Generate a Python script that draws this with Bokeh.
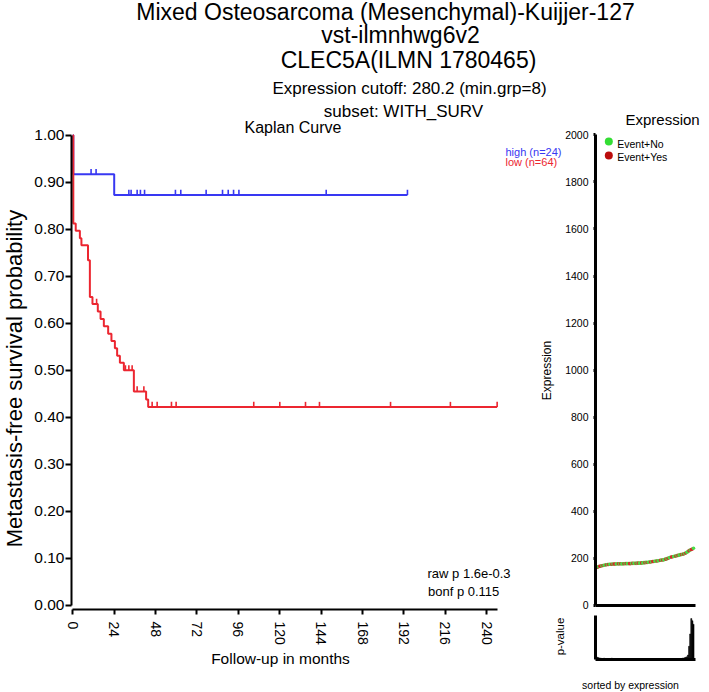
import math
import numpy as np
from bokeh.plotting import figure
from bokeh.models import (Range1d, FixedTicker, NumeralTickFormatter, LinearAxis,
                          ColumnDataSource)
from bokeh.core.properties import value
from bokeh.embed import file_html
from bokeh.resources import INLINE

# ---------------- texts ----------------
title_lines = ["Mixed Osteosarcoma (Mesenchymal)-Kuijjer-127",
               "vst-ilmnhwg6v2",
               "CLEC5A(ILMN 1780465)"]
info_lines = ["Expression cutoff: 280.2 (min.grp=8)", "subset: WITH_SURV"]
km_title = "Kaplan Curve"
expr_title = "Expression"
group_names = ["high (n=24)", "low (n=64)"]
event_names = ["Event+No", "Event+Yes"]
stat_lines = ["raw p 1.6e-0.3", "bonf p 0.115"]
km_xlabel = "Follow-up in months"
km_ylabel = "Metastasis-free survival probability"
expr_ylabel = "Expression"
pval_ylabel = "p-value"
pval_xlabel = "sorted by expression"

# ---------------- Kaplan-Meier data ----------------
low_time = [0.0, 0.3, 1.7, 4.1, 5.0, 8.8, 9.9, 11.4, 14.5, 16.1, 18.0, 20.5,
            22.4, 24.4, 25.7, 27.3, 29.6, 35.4, 42.5, 43.7, 246.0]
low_surv = [1.0, 0.8125, 0.797, 0.781, 0.766, 0.734, 0.656, 0.641, 0.625, 0.609,
            0.594, 0.578, 0.5625, 0.547, 0.531, 0.516, 0.500, 0.455, 0.438, 0.422, 0.422]
low_censor = [13.8, 30.5, 32.5, 34.4, 37.3, 41.2, 46.0, 48.9, 57.2, 59.9,
              104.9, 120.0, 134.9, 143.0, 184.2, 218.9, 246.0]

high_time = [0.0, 0.3, 24.0, 194.0]
high_surv = [1.0, 0.917, 0.873, 0.873]
high_censor = [10.6, 13.5, 32.5, 33.8, 37.3, 39.2, 41.6, 59.5, 62.6, 77.3,
               86.8, 90.1, 93.2, 96.3, 146.9, 194.0]

month_ticks = [0, 24, 48, 72, 96, 120, 144, 168, 192, 216, 240]
surv_ticks = [0.0, 0.1, 0.2, 0.3, 0.4, 0.5, 0.6, 0.7, 0.8, 0.9, 1.0]
expr_ticks = [0, 200, 400, 600, 800, 1000, 1200, 1400, 1600, 1800, 2000]

# ---------------- expression panel data (sorted) ----------------
expression = [163, 165, 167, 168, 169, 170, 171, 172, 173, 174,
              174, 175, 175, 175, 176, 176, 176, 176, 177, 177,
              177, 177, 177, 177, 177, 178, 178, 178, 178, 178,
              178, 179, 179, 179, 179, 179, 180, 180, 180, 180,
              181, 181, 182, 182, 183, 183, 184, 185, 185, 186,
              187, 187, 188, 189, 189, 190, 191, 192, 193, 193,
              194, 196, 197, 199, 201, 203, 205, 206, 207, 208,
              209, 210, 212, 213, 214, 216, 217, 218, 219, 221,
              223, 226, 229, 233, 236, 238, 240, 243]
event = [1, 0, 1, 1, 0, 1, 0, 0, 1, 0,
         1, 0, 0, 1, 0, 1, 1, 0, 0, 1,
         0, 1, 0, 0, 1, 0, 1, 0, 0, 1,
         1, 0, 1, 0, 0, 1, 0, 1, 0, 0,
         1, 0, 0, 1, 0, 1, 0, 0, 1, 0,
         1, 1, 0, 0, 1, 0, 0, 1, 0, 1,
         0, 0, 1, 0, 1, 0, 0, 1, 1, 0,
         0, 1, 0, 1, 0, 0, 1, 0, 1, 0,
         1, 0, 0, 1, 0, 1, 1, 0]
pvalue = [0.05, 0.04, 0.03, 0.03, 0.02, 0.02, 0.03, 0.02, 0.02, 0.02,
          0.02, 0.02, 0.02, 0.03, 0.02, 0.02, 0.02, 0.02, 0.02, 0.02,
          0.02, 0.02, 0.02, 0.02, 0.02, 0.02, 0.02, 0.02, 0.02, 0.02,
          0.02, 0.02, 0.02, 0.02, 0.02, 0.02, 0.02, 0.02, 0.02, 0.02,
          0.02, 0.02, 0.02, 0.02, 0.02, 0.02, 0.02, 0.02, 0.02, 0.02,
          0.02, 0.02, 0.02, 0.02, 0.02, 0.02, 0.02, 0.02, 0.02, 0.02,
          0.02, 0.02, 0.02, 0.02, 0.02, 0.02, 0.02, 0.02, 0.02, 0.02,
          0.02, 0.02, 0.02, 0.02, 0.02, 0.02, 0.02, 0.03, 0.03, 0.04,
          0.05, 0.06, 0.10, 0.30, 0.58, 0.93, 0.88, 0.80]

# ---------------- styles ----------------
FONT = "Liberation Sans"
BLUE = "#3838f2"
RED = "#ec2630"
GREEN_PT = "#48dc48"
RED_PT = "#d42a2a"
LEG_GREEN = "#33dd33"
LEG_RED = "#bb0c0c"
TICK_H = 0.011          # height of censor ticks (survival units)
BASE_SHIFT = 0.3        # em correction for alphabetic baseline

# ---------------- one canvas, several coordinate systems ----------------
p = figure(width=709, height=692,
           x_range=Range1d(-41.91, 369.1), y_range=Range1d(-0.185, 1.2864),
           x_axis_location=None, y_axis_location=None, min_border=0,
           toolbar_location=None, output_backend="svg")
p.extra_x_ranges = {"idx": Range1d(-540.06, 102.5), "px": Range1d(0, 709)}
p.extra_y_ranges = {"expr": Range1d(-369.7, 2570.6),
                    "pval": Range1d(-0.75, 14.977),
                    "px": Range1d(692, 0)}
p.grid.visible = False
p.outline_line_color = None
p.background_fill_color = "white"
p.border_fill_color = "white"


def style_axis(ax, lw, font_size):
    ax.axis_line_color = "black"
    ax.axis_line_width = lw
    ax.major_tick_line_color = "black"
    ax.major_tick_line_width = lw
    ax.minor_tick_line_color = None
    ax.major_label_text_font = FONT
    ax.major_label_text_font_size = font_size
    ax.major_label_text_color = "black"


# Kaplan-Meier axes
kx = LinearAxis(fixed_location=-0.0085, bounds=(0, 246),
                ticker=FixedTicker(ticks=month_ticks))
style_axis(kx, 2, "14px")
kx.major_tick_out = 5
kx.major_tick_in = 0
kx.major_label_orientation = -math.pi / 2
kx.major_label_standoff = 7
p.add_layout(kx, "below")

ky = LinearAxis(fixed_location=-0.754, bounds=(0, 1),
                ticker=FixedTicker(ticks=surv_ticks),
                formatter=NumeralTickFormatter(format="0.00"))
style_axis(ky, 2, "15.5px")
ky.major_tick_out = 6
ky.major_tick_in = 0
ky.major_label_standoff = 1
p.add_layout(ky, "left")

# expression axes
ey = LinearAxis(x_range_name="idx", y_range_name="expr", fixed_location=-0.81,
                bounds=(0, 2000), ticker=FixedTicker(ticks=expr_ticks))
style_axis(ey, 3, "10.5px")
ey.major_tick_out = 2
ey.major_tick_in = 0
ey.major_label_standoff = 5
p.add_layout(ey, "left")

ex = LinearAxis(x_range_name="idx", y_range_name="expr", fixed_location=0,
                bounds=(-0.81, 89.8), ticker=FixedTicker(ticks=[]))
style_axis(ex, 3, "0px")
ex.major_tick_out = 0
ex.major_tick_in = 0
p.add_layout(ex, "below")

# p-value axes
py = LinearAxis(x_range_name="idx", y_range_name="pval", fixed_location=-0.81,
                bounds=(0, 1), ticker=FixedTicker(ticks=[]))
style_axis(py, 3, "0px")
py.major_tick_out = 0
py.major_tick_in = 0
p.add_layout(py, "left")

px_ = LinearAxis(x_range_name="idx", y_range_name="pval", fixed_location=0,
                 bounds=(-0.81, 89.8), ticker=FixedTicker(ticks=[]))
style_axis(px_, 3, "0px")
px_.major_tick_out = 0
px_.major_tick_in = 0
p.add_layout(px_, "below")


# ---------------- Kaplan-Meier curves ----------------
def censor_points(times, surv, cens):
    t = np.asarray(times)
    s = np.asarray(surv)
    i = np.searchsorted(t, np.asarray(cens), side="right") - 1
    ys = s[i]
    return list(cens), list(ys), list(ys + TICK_H)


p.step(x=high_time, y=high_surv, mode="after", line_color=BLUE, line_width=2)
cx, cy0, cy1 = censor_points(high_time, high_surv, high_censor)
p.segment(x0=cx, y0=cy0, x1=cx, y1=cy1, line_color=BLUE, line_width=1.6)

p.step(x=low_time, y=low_surv, mode="after", line_color=RED, line_width=2)
cx, cy0, cy1 = censor_points(low_time, low_surv, low_censor)
p.segment(x0=cx, y0=cy0, x1=cx, y1=cy1, line_color=RED, line_width=1.6)

# ---------------- expression points ----------------
idx = list(range(1, len(expression) + 1))
colors = [RED_PT if e == 1 else GREEN_PT for e in event]
src = ColumnDataSource(dict(x=idx, y=expression, c=colors))
p.scatter(x="x", y="y", source=src, x_range_name="idx", y_range_name="expr",
          size=3.6, fill_color="c", line_color=None)

# ---------------- p-value bars ----------------
p.vbar(x=idx, top=pvalue, bottom=0, width=1.0, x_range_name="idx",
       y_range_name="pval", fill_color="black", line_color="black", line_width=0.5)

# ---------------- legend keys (event status) ----------------
p.scatter(x=[608.3, 608.3], y=[141, 155], x_range_name="px", y_range_name="px",
          size=8, fill_color=[LEG_GREEN, LEG_RED], line_color=None)


# ---------------- texts (page pixel coordinates) ----------------
def txt(s, x, y, size, color="black", align="left", angle=0.0):
    # y / x given as the desired alphabetic baseline; corrected for renderer offset
    if angle == 0:
        y = y - BASE_SHIFT * size
    else:
        x = x - BASE_SHIFT * size
    p.text(x=[x], y=[y], text=[s], x_range_name="px", y_range_name="px",
           text_font=value(FONT), text_font_size="%gpx" % size,
           text_color=color, text_align=align, text_baseline="alphabetic",
           angle=angle)


txt(title_lines[0], 385, 18.5, 23, align="center")
txt(title_lines[1], 400, 41.7, 23, align="center")
txt(title_lines[2], 408, 66.7, 23, align="center")
txt(info_lines[0], 409, 93.3, 17, align="center")
txt(info_lines[1], 403, 116, 17, align="center")
txt(km_title, 292.5, 132, 16, align="center")
txt(expr_title, 625, 123, 15)
txt(group_names[0], 505, 154.5, 11, color=BLUE)
txt(group_names[1], 505, 165, 11, color=RED)
txt(event_names[0], 616.7, 146.5, 10.5)
txt(event_names[1], 616.7, 160, 10.5)
txt(stat_lines[0], 427, 577, 13)
txt(stat_lines[1], 427.5, 595, 13)
txt(km_xlabel, 280, 662.7, 15.5, align="center")
txt(pval_xlabel, 630, 687.5, 10.5, align="center")
txt(km_ylabel, 21, 378, 22, align="center", angle=math.pi / 2)
txt(expr_ylabel, 550, 370, 12, align="center", angle=math.pi / 2)
txt(pval_ylabel, 563, 636, 11.5, align="center", angle=math.pi / 2)

open("out.html", "w").write(file_html(p, INLINE))
